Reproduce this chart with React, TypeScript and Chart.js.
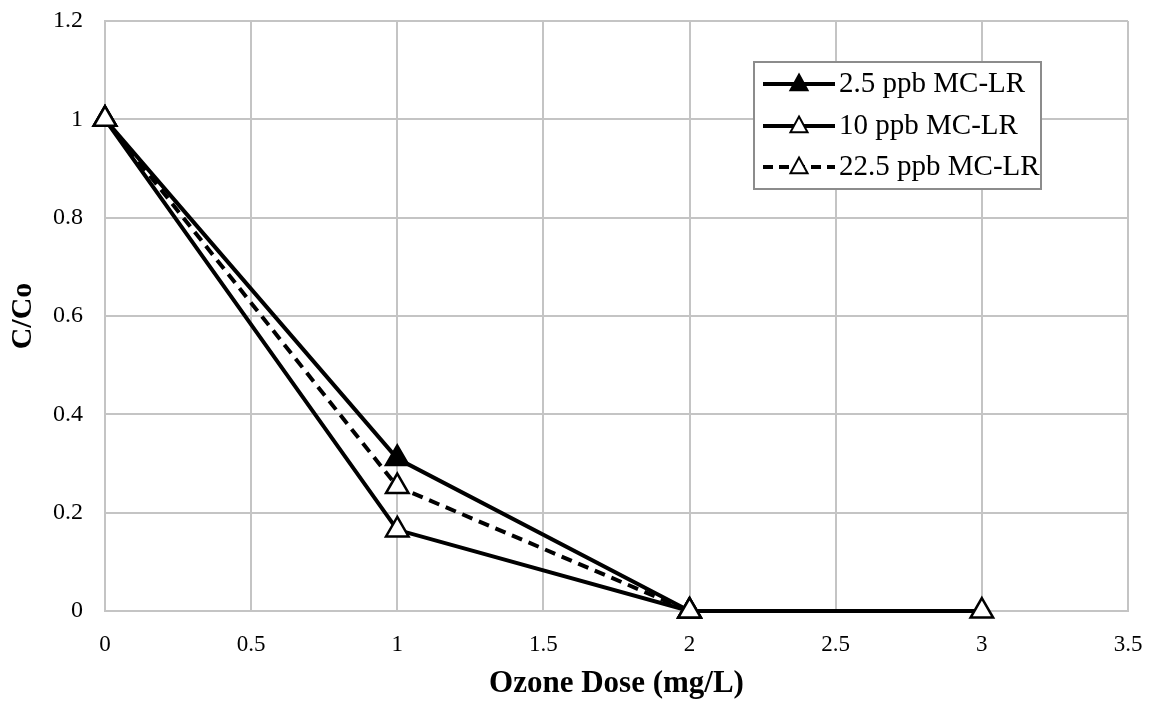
import React, { useEffect, useRef } from "react";
import { Chart, registerables } from "chart.js";

Chart.register(...registerables);

const seriesLabels = ["2.5 ppb MC-LR", "10 ppb MC-LR", "22.5 ppb MC-LR"];
const series25 = [
  { x: 0, y: 1 },
  { x: 1, y: 0.31 },
  { x: 2, y: 0 },
];
const series10 = [
  { x: 0, y: 1 },
  { x: 1, y: 0.165 },
  { x: 2, y: 0 },
  { x: 3, y: 0 },
];
const series225 = [
  { x: 0, y: 1 },
  { x: 1, y: 0.253 },
  { x: 2, y: 0 },
];
const xTitle = "Ozone Dose (mg/L)";
const yTitle = "C/Co";

const FONT = "'Liberation Serif', 'Times New Roman', serif";

const legendPlugin = {
  id: "customLegend",
  afterDraw(chart: any) {
    const ctx = chart.ctx;
    const left = 754, top = 62, right = 1041, bottom = 189;
    ctx.save();
    ctx.fillStyle = "#fff";
    ctx.fillRect(left, top, right - left, bottom - top);
    ctx.strokeStyle = "#8c8c8c";
    ctx.lineWidth = 2;
    ctx.strokeRect(left, top, right - left, bottom - top);
    const rows = [84, 126, 167];
    const fills = ["#000", "#fff", "#fff"];
    const dashes = [[], [], [10, 6]];
    rows.forEach((y, i) => {
      ctx.strokeStyle = "#000";
      ctx.lineWidth = 4;
      ctx.setLineDash(dashes[i]);
      ctx.beginPath();
      ctx.moveTo(763, y);
      ctx.lineTo(835, y);
      ctx.stroke();
      ctx.setLineDash([]);
      const r = 9.5;
      ctx.beginPath();
      ctx.moveTo(799, y - r);
      ctx.lineTo(799 + r * 0.9, y + r * 0.65);
      ctx.lineTo(799 - r * 0.9, y + r * 0.65);
      ctx.closePath();
      ctx.fillStyle = fills[i];
      ctx.fill();
      ctx.lineWidth = 2;
      ctx.stroke();
      ctx.fillStyle = "#000";
      ctx.font = `29px ${FONT}`;
      ctx.textBaseline = "middle";
      ctx.textAlign = "left";
      ctx.fillText(seriesLabels[i], 839, y);
    });
    ctx.restore();
  },
};

const fmt = (v: any) => String(Number(Number(v).toFixed(2)));

export default function App() {
  const ref = useRef<HTMLCanvasElement>(null);
  useEffect(() => {
    if (!ref.current) return;
    const common = {
      showLine: true,
      borderColor: "#000",
      borderWidth: 4,
      pointStyle: "triangle",
      pointRadius: 13,
      pointBorderWidth: 2.5,
      pointBorderColor: "#000",
      tension: 0,
      clip: false,
    };
    const chart = new Chart(ref.current, {
      type: "scatter",
      data: {
        datasets: [
          { ...common, label: seriesLabels[0], data: series25, pointBackgroundColor: "#000", order: 3 },
          { ...common, label: seriesLabels[1], data: series10, pointBackgroundColor: "#fff", order: 1 },
          {
            ...common,
            label: seriesLabels[2],
            data: series225,
            pointBackgroundColor: "#fff",
            borderDash: [11, 7],
            order: 2,
          },
        ],
      } as any,
      options: {
        animation: false,
        responsive: false,
        layout: { padding: { top: 21, right: 24, left: 0, bottom: 0 } },
        plugins: { legend: { display: false }, tooltip: { enabled: false } },
        scales: {
          x: {
            type: "linear",
            min: 0,
            max: 3.5,
            ticks: {
              stepSize: 0.5,
              color: "#000",
              padding: 20,
              font: { family: FONT, size: 23 },
              callback: fmt,
            },
            grid: { color: "#c4c4c4", lineWidth: 2, drawTicks: false },
            border: { color: "#c4c4c4", width: 2 },
            title: {
              display: true,
              text: xTitle,
              color: "#000",
              font: { family: FONT, size: 31, weight: "bold" },
              padding: { top: 4, bottom: 1 },
            },
            afterFit(scale: any) {
              scale.height = 93;
              scale.paddingLeft = 0;
              scale.paddingRight = 0;
            },
          },
          y: {
            min: 0,
            max: 1.2,
            ticks: {
              stepSize: 0.2,
              color: "#000",
              padding: 22,
              font: { family: FONT, size: 24 },
              callback: fmt,
            },
            grid: { color: "#c4c4c4", lineWidth: 2, drawTicks: false },
            border: { color: "#c4c4c4", width: 2 },
            title: {
              display: true,
              text: yTitle,
              color: "#000",
              font: { family: FONT, size: 30, weight: "bold" },
              padding: { top: 5, bottom: 0 },
            },
            afterFit(scale: any) {
              scale.width = 105;
              scale.paddingTop = 0;
              scale.paddingBottom = 0;
            },
          },
        },
      } as any,
      plugins: [legendPlugin],
    });
    return () => chart.destroy();
  }, []);
  return (
    <div style={{ position: "fixed", left: 0, top: 0, width: 1152, height: 704, background: "#fff" }}>
      <canvas ref={ref} width={1152} height={704} />
    </div>
  );
}
